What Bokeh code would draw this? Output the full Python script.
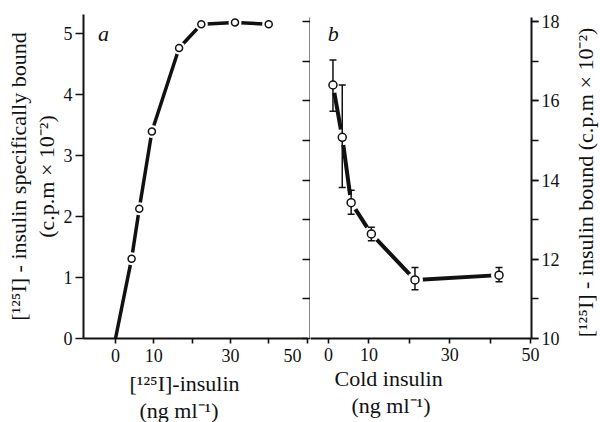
import math
from bokeh.plotting import figure
from bokeh.layouts import row
from bokeh.models import Range1d, LinearAxis, SingleIntervalTicker, FixedTicker, Label, Title
from bokeh.embed import file_html
from bokeh.resources import INLINE

# ---------------- data ----------------
# panel a: [125I]-insulin (ng/ml) vs specifically bound (c.p.m x 10^-2)
a_conc = [4.2, 6.2, 9.5, 16.6, 22.4, 31.2, 40.0]
a_bound = [1.31, 2.13, 3.40, 4.77, 5.16, 5.19, 5.16]
a_origin_x = [0]
a_origin_y = [0]

# panel b: cold insulin (ng/ml) vs [125I]-insulin bound (c.p.m x 10^-2)
b_cold = [1.1, 3.4, 5.6, 10.6, 21.4, 42.2]
b_bound = [16.40, 15.08, 13.43, 12.64, 11.48, 11.60]
b_upper = [17.03, 16.40, 13.74, 12.81, 11.79, 11.79]
b_lower = [15.74, 13.81, 13.14, 12.47, 11.23, 11.43]

a_xticks = [0, 10, 30, 50]
a_xminor = [20, 40]
b_xticks = [0, 10, 30, 50]
b_xminor = [20, 40]
b_left_ticks = list(range(10, 19))

a_ylabel = ["[¹²⁵I] - insulin specifically bound", "(c.p.m × 10⁻²)"]
a_xlabel = ["[¹²⁵I]-insulin", "(ng ml⁻¹)"]
b_xlabel = ["Cold  insulin", "(ng ml⁻¹)"]
b_ylabel = "[¹²⁵I] - insulin bound (c.p.m × 10⁻²)"

FONT = "Liberation Serif"
INK = "#111111"
TICK_FS = "18px"
LAB_FS = "22px"
FIG_SPACE = "\u2007"

TOP, FRAME_H, BOTTOM = 14, 324, 84
CANVAS_H = TOP + FRAME_H + BOTTOM


def style(ax):
    ax.axis_line_color = INK
    ax.axis_line_width = 2
    ax.major_tick_line_color = INK
    ax.major_tick_line_width = 1.6
    ax.minor_tick_line_color = INK
    ax.minor_tick_line_width = 1.6
    ax.major_label_text_font = FONT
    ax.major_label_text_font_size = TICK_FS
    ax.major_label_text_color = INK
    ax.axis_label_standoff = 0


def title(s, **kw):
    return Title(text=s, text_font=FONT, text_font_size=LAB_FS, text_font_style="normal",
                 text_color=INK, **kw)


def letter(f, x, y, s):
    f.add_layout(Label(x=x, y=y, text=s, text_font=FONT, text_font_size="22px",
                       text_font_style="italic", text_color=INK, text_align="center",
                       text_baseline="middle"))


def base(**kw):
    f = figure(frame_height=FRAME_H, min_border_top=TOP, min_border_bottom=BOTTOM,
               x_axis_type=None, y_axis_type=None,
               output_backend="svg", toolbar_location=None, **kw)
    f.grid.visible = False
    f.outline_line_color = None
    f.background_fill_color = "white"
    f.border_fill_color = "white"
    return f


# ================= panel a =================
pa = base(frame_width=227, min_border_left=83, min_border_right=0,
          x_range=Range1d(-8.36, 50.91), y_range=Range1d(0, 5.32))
pa.extra_y_ranges = {"b": Range1d(10, 18.18)}

ya = LinearAxis(ticker=SingleIntervalTicker(interval=1, num_minor_ticks=0))
style(ya)
ya.major_tick_out = 8
ya.major_tick_in = 0
ya.major_label_standoff = 3
pa.add_layout(ya, "left")
pa.add_layout(title(a_ylabel[1], align="center", standoff=3), "left")
pa.add_layout(title(a_ylabel[0], align="center", standoff=0), "left")

xa = LinearAxis(ticker=FixedTicker(ticks=a_xticks, minor_ticks=a_xminor), bounds=(-8.36, 50),
                major_label_overrides={50: "50" + FIG_SPACE})
style(xa)
xa.major_tick_out = 5
xa.major_tick_in = 0
xa.minor_tick_out = 5
xa.minor_tick_in = 0
xa.major_label_standoff = 2
pa.add_layout(xa, "below")
pa.add_layout(title(a_xlabel[0], align="left", offset=46, standoff=0), "below")
pa.add_layout(title(a_xlabel[1], align="left", offset=56, standoff=0), "below")

# left border of panel b (ticks pointing into panel a)
yb_left = LinearAxis(y_range_name="b", ticker=FixedTicker(ticks=b_left_ticks),
                     bounds=(10, 18.1),
                     major_label_overrides={t: "" for t in b_left_ticks})
style(yb_left)
yb_left.major_tick_out = 0
yb_left.major_tick_in = 8
yb_left.major_label_standoff = 0
pa.add_layout(yb_left, "right")

pa.line(a_origin_x + a_conc, a_origin_y + a_bound, line_width=3.5, line_color=INK)
pa.scatter(a_conc, a_bound, size=13, fill_color="white", line_color=None)
pa.scatter(a_conc, a_bound, size=7, fill_color="white", line_color=INK, line_width=1.5)
letter(pa, -3.13, 5.01, "a")

# ================= panel b =================
pb = base(frame_width=221, min_border_left=0, min_border_right=36,
          x_range=Range1d(-4.46, 50.24), y_range=Range1d(10, 18.18))

xb = LinearAxis(ticker=FixedTicker(ticks=b_xticks, minor_ticks=b_xminor))
style(xb)
xb.major_tick_out = 5
xb.major_tick_in = 0
xb.minor_tick_out = 5
xb.minor_tick_in = 0
xb.major_label_standoff = 4
pb.add_layout(xb, "below")
pb.add_layout(title(b_xlabel[0], align="left", offset=24, standoff=0), "below")
pb.add_layout(title(b_xlabel[1], align="left", offset=41, standoff=0), "below")

yb = LinearAxis(ticker=SingleIntervalTicker(interval=2, num_minor_ticks=2), bounds=(10, 18.1))
style(yb)
yb.major_tick_out = 7
yb.major_tick_in = 0
yb.minor_tick_out = 7
yb.minor_tick_in = 0
yb.major_label_standoff = 3
pb.add_layout(yb, "right")

pb.line(b_cold, b_bound, line_width=4, line_color=INK)
pb.scatter(b_cold, b_bound, size=16, fill_color="white", line_color=None)
pb.segment(b_cold, b_lower, b_cold, b_upper, line_width=1.5, line_color=INK)
pb.scatter(b_cold, b_upper, marker="dash", size=7, line_width=1.5, line_color=INK)
pb.scatter(b_cold, b_lower, marker="dash", size=7, line_width=1.5, line_color=INK)
pb.scatter(b_cold, b_bound, size=8, fill_color="white", line_color=INK, line_width=1.5)
letter(pb, 1.2, 17.7, "b")

# ================= right-hand axis title strip =================
pc = figure(frame_width=32, frame_height=CANVAS_H,
            min_border_left=0, min_border_right=0, min_border_top=0, min_border_bottom=0,
            x_range=Range1d(0, 32), y_range=Range1d(0, CANVAS_H),
            x_axis_type=None, y_axis_type=None,
            output_backend="svg", toolbar_location=None)
pc.grid.visible = False
pc.outline_line_color = None
pc.add_layout(Label(x=18, y=CANVAS_H - 168, text=b_ylabel, angle=math.pi / 2,
                    text_font=FONT, text_font_size=LAB_FS, text_color=INK,
                    text_align="center", text_baseline="middle"))

layout = row(pa, pb, pc, spacing=0)
open("out.html", "w").write(file_html(layout, INLINE))
